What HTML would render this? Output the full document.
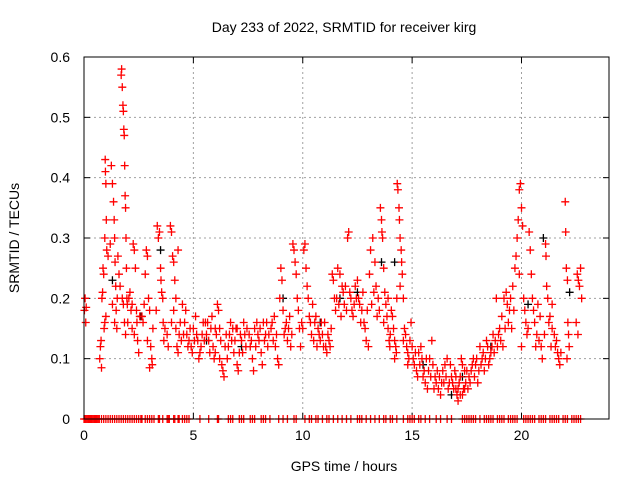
<!DOCTYPE html>
<html><head><meta charset="utf-8"><style>
body{margin:0;background:#fff;}
svg text{font-family:"Liberation Sans",sans-serif;font-size:14px;fill:#000;}
</style></head><body>
<svg id="chart" width="640" height="480" xmlns="http://www.w3.org/2000/svg">
<rect width="640" height="480" fill="#fff"/>
<text x="344" y="32" text-anchor="middle">Day 233 of 2022, SRMTID for receiver kirg</text>
<text x="344" y="471" text-anchor="middle">GPS time / hours</text>
<text transform="translate(19,238) rotate(-90)" text-anchor="middle">SRMTID / TECUs</text>
<g id="grid"></g>
<g id="ticks"></g>
<g id="marks"></g>
<rect x="84" y="57" width="525" height="362" fill="none" stroke="#000" stroke-width="1"/>
</svg>
<script>
const xTicks=[0,5,10,15,20];
const yTicks=[0,0.1,0.2,0.3,0.4,0.5,0.6];
const yTickLabels=["0","0.1","0.2","0.3","0.4","0.5","0.6"];
const redPoints=[
[0.02,0.18],[0.05,0.2],[0.08,0.16],[0.1,0.185],
[0.72,0.1],[0.75,0.12],[0.78,0.13],[0.8,0.085],[0.82,0.2],[0.85,0.21],[0.87,0.25],[0.9,0.24],[0.92,0.15],[0.95,0.16],[0.97,0.43],[0.98,0.41],[1.0,0.39],[1.02,0.33],[1.04,0.28],[1.0,0.17],
[1.2,0.29],[1.25,0.42],[1.3,0.39],[1.35,0.36],[1.38,0.33],[1.4,0.3],[1.42,0.26],[1.45,0.22],[1.47,0.18],[1.5,0.15],[1.52,0.2],[1.55,0.27],[1.3,0.19],[1.4,0.16],
[1.7,0.57],[1.72,0.58],[1.75,0.55],[1.78,0.52],[1.8,0.51],[1.82,0.48],[1.84,0.47],[1.86,0.42],[1.88,0.37],[1.9,0.35],[1.92,0.3],[1.94,0.25],[1.96,0.2],[1.98,0.19],[1.85,0.16],[1.9,0.14],[1.75,0.2],[1.8,0.19],
[2.05,0.2],[2.1,0.21],[2.15,0.18],[2.2,0.15],[2.25,0.29],[2.3,0.28],[2.35,0.25],[2.4,0.18],[2.42,0.16],[2.45,0.13],[2.5,0.11],[2.2,0.19],
[2.65,0.17],[2.7,0.16],[2.75,0.19],[2.8,0.24],[2.85,0.28],[2.9,0.27],[2.95,0.2],[3.0,0.18],[3.05,0.12],[3.1,0.1],[3.12,0.09],[3.15,0.15],[3.0,0.085],
[3.35,0.32],[3.4,0.3],[3.45,0.31],[3.5,0.25],[3.52,0.23],[3.55,0.21],[3.6,0.2],[3.62,0.16],[3.65,0.13],[3.7,0.15],
[3.95,0.32],[4.0,0.31],[4.05,0.27],[4.1,0.26],[4.15,0.23],[4.2,0.15],[4.25,0.12],[4.3,0.11],[4.35,0.14],[4.0,0.16],[4.1,0.18],[4.2,0.2],[4.3,0.28],[4.4,0.16],
[4.5,0.19],[4.6,0.16],[4.7,0.14],[4.8,0.13],[4.9,0.12],[5.0,0.15],[5.1,0.17],[5.15,0.14],[5.2,0.13],[5.25,0.1],[5.3,0.11],[5.35,0.12],[5.4,0.14],[5.45,0.16],[4.65,0.18],[4.85,0.15],
[5.55,0.16],[5.6,0.14],[5.7,0.13],[5.8,0.15],[5.85,0.17],[5.9,0.12],[5.95,0.1],[6.0,0.11],[6.05,0.14],[6.1,0.19],[6.15,0.18],[6.2,0.15],[6.25,0.13],[6.3,0.09],[6.35,0.08],[6.4,0.07],[6.2,0.1],
[6.55,0.1],[6.6,0.12],[6.65,0.14],[6.7,0.16],[6.8,0.15],[6.9,0.13],[7.0,0.09],[7.05,0.08],[7.1,0.11],[7.2,0.13],[7.3,0.16],[7.35,0.14],[7.4,0.12],[7.0,0.15],
[7.55,0.14],[7.6,0.12],[7.7,0.1],[7.75,0.08],[7.8,0.15],[7.9,0.16],[8.0,0.13],[8.1,0.11],[8.15,0.09],[8.3,0.14],[8.4,0.12],[8.2,0.16],
[8.55,0.15],[8.6,0.16],[8.7,0.17],[8.8,0.14],[8.85,0.1],[8.9,0.09],[8.95,0.2],[9.0,0.25],[9.05,0.23],[9.1,0.18],[9.2,0.15],[9.3,0.13],[9.4,0.17],
[9.55,0.29],[9.6,0.28],[9.65,0.26],[9.7,0.24],[9.75,0.2],[9.8,0.18],[9.85,0.15],[9.9,0.12],[9.95,0.16],
[10.05,0.28],[10.1,0.29],[10.15,0.25],[10.2,0.22],[10.25,0.2],[10.3,0.17],[10.35,0.16],[10.4,0.14],[10.45,0.19],
[10.6,0.17],[10.7,0.15],[10.8,0.13],[10.9,0.14],[11.0,0.16],[11.05,0.12],[11.1,0.11],[11.2,0.13],[11.3,0.15],[11.35,0.24],[11.4,0.23],[11.45,0.2],[11.5,0.18],
[11.6,0.25],[11.7,0.24],[11.8,0.22],[11.9,0.19],[12.0,0.18],[12.05,0.3],[12.1,0.31],[12.2,0.2],[12.3,0.17],[12.4,0.22],[12.15,0.21],[12.35,0.19],
[12.55,0.2],[12.6,0.19],[12.7,0.18],[12.8,0.16],[12.9,0.13],[13.0,0.12],[13.05,0.24],[13.1,0.28],[13.2,0.3],[13.3,0.26],[13.35,0.22],[13.45,0.2],[12.75,0.21],
[13.55,0.35],[13.6,0.33],[13.62,0.31],[13.65,0.3],[13.7,0.25],[13.75,0.21],[13.8,0.19],[13.85,0.17],[13.9,0.15],[13.95,0.13],[13.98,0.12],
[14.05,0.18],[14.1,0.17],[14.15,0.15],[14.2,0.13],[14.25,0.12],[14.28,0.11],[14.3,0.2],[14.32,0.39],[14.35,0.38],[14.4,0.35],[14.42,0.33],[14.45,0.3],[14.5,0.28],[14.52,0.26],[14.55,0.24],[14.6,0.2],[14.45,0.22],
[14.65,0.15],[14.7,0.14],[14.75,0.12],[14.8,0.11],[14.85,0.1],[14.9,0.13],[14.95,0.16],
[15.05,0.1],[15.1,0.09],[15.2,0.08],[15.3,0.11],[15.4,0.12],[15.5,0.07],[15.6,0.06],[15.7,0.05],[15.75,0.08],[15.8,0.1],[15.9,0.13],[15.95,0.09],[15.25,0.07],[15.45,0.1],
[16.05,0.07],[16.1,0.06],[16.2,0.05],[16.3,0.04],[16.4,0.08],[16.5,0.09],[16.6,0.1],[16.7,0.06],[16.8,0.07],[16.9,0.05],[16.95,0.08],[16.45,0.06],
[17.0,0.05],[17.05,0.04],[17.1,0.03],[17.15,0.06],[17.2,0.07],[17.25,0.1],[17.3,0.09],[17.35,0.05],[17.4,0.08],[17.45,0.06],[17.1,0.05],[17.2,0.04],
[17.6,0.07],[17.7,0.08],[17.8,0.1],[17.9,0.09],[18.0,0.06],[18.1,0.12],[18.2,0.1],[18.25,0.11],[18.3,0.08],[18.4,0.13],[18.45,0.12],
[18.55,0.1],[18.6,0.11],[18.7,0.14],[18.8,0.13],[18.85,0.2],[18.9,0.12],[19.0,0.15],[19.1,0.17],[19.2,0.2],[19.3,0.21],[19.35,0.19],[19.4,0.16],[19.45,0.18],
[19.6,0.22],[19.7,0.25],[19.75,0.27],[19.8,0.3],[19.85,0.33],[19.9,0.38],[19.95,0.39],[20.0,0.35],[20.05,0.32],[20.1,0.2],[20.15,0.18],[20.2,0.16],[20.25,0.14],[20.0,0.12],[19.9,0.24],
[20.35,0.31],[20.4,0.28],[20.45,0.24],[20.5,0.2],[20.55,0.18],[20.6,0.16],[20.7,0.14],[20.8,0.13],[20.9,0.12],[20.95,0.1],[20.75,0.19],
[21.1,0.29],[21.12,0.27],[21.15,0.22],[21.2,0.2],[21.3,0.17],[21.4,0.15],[21.5,0.14],[21.6,0.13],[21.65,0.11],[21.7,0.1],[21.75,0.09],[21.4,0.19],
[22.0,0.36],[22.02,0.31],[22.05,0.25],[22.1,0.23],[22.12,0.16],[22.15,0.14],[22.18,0.12],
[22.55,0.24],[22.6,0.23],[22.65,0.22],[22.7,0.25],[22.75,0.2],
[0.95,0.3],[1.1,0.27],[1.6,0.24],[1.65,0.22],[2.0,0.16],[2.3,0.14],[2.55,0.17],[2.9,0.13],[3.3,0.18],[3.8,0.14],[3.85,0.12],[4.45,0.13],[4.55,0.14],[4.75,0.12],[4.95,0.11],[5.05,0.13],[5.5,0.13],[5.65,0.16],[5.75,0.11],[6.0,0.15],[6.45,0.12],[6.5,0.14],[6.75,0.13],[6.85,0.11],[6.95,0.15],[7.15,0.14],[7.25,0.11],[7.45,0.15],[7.65,0.13],[7.85,0.12],[7.95,0.14],[8.05,0.15],[8.25,0.13],[8.35,0.16],[8.45,0.14],[8.65,0.13],[8.75,0.12],[9.15,0.14],[9.25,0.16],[9.35,0.15],[9.45,0.12],[9.5,0.14],[10.0,0.15],[10.5,0.13],[10.55,0.16],[10.65,0.12],[10.75,0.14],[10.85,0.16],[10.95,0.12],[11.15,0.14],[11.25,0.12],[11.55,0.2],[11.65,0.19],[11.75,0.17],[11.85,0.21],[11.95,0.22],[12.25,0.18],[12.45,0.2],[12.5,0.23],[12.65,0.16],[12.85,0.15],[12.95,0.18],[13.15,0.19],[13.25,0.21],[13.4,0.17],[13.5,0.18],[13.7,0.16],[13.9,0.2],[14.0,0.14],[14.2,0.1],[14.6,0.13],[14.8,0.09],[15.0,0.12],[15.15,0.11],[15.35,0.09],[15.55,0.08],[15.65,0.1],[15.85,0.07],[16.0,0.05],[16.15,0.08],[16.25,0.07],[16.35,0.06],[16.55,0.07],[16.65,0.05],[16.75,0.09],[16.85,0.06],[17.0,0.07],[17.3,0.04],[17.4,0.05],[17.5,0.08],[17.55,0.05],[17.65,0.06],[17.75,0.09],[17.85,0.07],[17.95,0.1],[18.05,0.08],[18.15,0.09],[18.35,0.1],[18.5,0.09],[18.65,0.12],[18.75,0.11],[18.95,0.14],[19.05,0.13],[19.15,0.12],[19.25,0.15],[19.5,0.2],[19.55,0.15],[19.65,0.18],[20.3,0.15],[20.65,0.12],[20.85,0.17],[21.05,0.14],[21.25,0.16],[21.35,0.12],[21.55,0.12],[21.8,0.11],[22.08,0.1],[22.5,0.16],[22.58,0.14]
];
const blackPoints=[[1.3,0.23],[2.6,0.17],[3.5,0.28],[5.6,0.13],[7.2,0.12],[9.1,0.2],[10.8,0.16],[12.5,0.21],[13.6,0.26],[15.5,0.09],[16.8,0.04],[17.3,0.07],[18.6,0.12],[20.3,0.19],[21.0,0.3],[22.2,0.21],[14.2,0.26],[11.7,0.2]];
const zeroTimes=[0.0,0.05,0.1,0.15,0.2,0.25,0.3,0.35,0.4,0.45,0.5,0.55,0.6,0.65,0.7,0.8,0.9,1.0,1.1,1.2,1.3,1.4,1.5,1.6,1.7,1.8,1.9,2.0,2.1,2.2,2.3,2.4,2.5,2.6,2.65,2.8,2.9,3.0,3.1,3.2,3.4,3.45,3.6,3.8,3.85,3.9,4.1,4.15,4.3,4.35,4.5,4.6,4.7,4.8,5.3,5.7,6.1,6.15,6.6,6.7,6.8,7.1,7.2,7.3,7.6,7.7,7.8,8.1,8.2,8.3,8.5,8.9,9.1,9.3,9.6,9.7,10.1,10.3,10.4,10.6,10.7,10.9,11.1,11.2,11.4,11.6,11.8,12.0,12.2,12.5,12.6,12.7,12.9,13.1,13.3,13.5,13.7,13.8,14.0,14.1,14.3,14.6,14.8,14.9,15.0,15.1,15.3,15.4,15.6,15.8,16.1,16.3,16.6,16.8,17.3,17.4,17.5,17.6,17.7,17.8,17.9,18.1,18.3,18.4,18.5,18.6,18.7,18.9,19.0,19.1,19.2,19.4,19.5,19.6,19.7,19.8,20.1,20.2,20.3,20.4,20.5,20.6,20.8,20.9,21.0,21.1,21.3,21.4,21.5,21.6,21.7,21.9,22.0,22.1,22.3,22.4,22.5,22.6,22.7];
const X0=84,X1=609,Y0=419,Y1=57,XMAX=24,YMAX=0.6;
function xs(t){return X0+(X1-X0)*t/XMAX;}
function ys(v){return Y0-(Y0-Y1)*v/YMAX;}
const NS="http://www.w3.org/2000/svg";
const grid=document.getElementById('grid'),ticks=document.getElementById('ticks'),marks=document.getElementById('marks');
function mk(tag,attrs,parent){const e=document.createElementNS(NS,tag);for(const k in attrs)e.setAttribute(k,attrs[k]);parent.appendChild(e);return e;}
xTicks.forEach(t=>{
  const x=xs(t);
  if(t>0){const g=mk('line',{x1:x,x2:x,y1:Y1,y2:Y0,stroke:'#a0a0a0','stroke-dasharray':'2,3'},grid);
  
  }
  mk('line',{x1:x,x2:x,y1:Y0,y2:Y0-6,stroke:'#000'},ticks);
  mk('line',{x1:x,x2:x,y1:Y1,y2:Y1+6,stroke:'#000'},ticks);
  const tx=mk('text',{x:x,y:Y0+21,'text-anchor':'middle'},ticks);tx.textContent=t;
  
  
});
yTicks.forEach((v,i)=>{
  const y=ys(v);
  if(v>0&&v<0.6){const g=mk('line',{x1:X0,x2:X1,y1:y,y2:y,stroke:'#a0a0a0','stroke-dasharray':'2,3'},grid);
  
  }
  mk('line',{x1:X0,x2:X0+6,y1:y,y2:y,stroke:'#000'},ticks);
  mk('line',{x1:X1,x2:X1-6,y1:y,y2:y,stroke:'#000'},ticks);
  const tx=mk('text',{x:70,y:y+5,'text-anchor':'end'},ticks);tx.textContent=yTickLabels[i];
  
  
});
function cross(t,v,color,name){
  const x=xs(t),y=ys(v);
  const p=mk('path',{d:`M${x-4},${y}h8M${x},${y-4}v8`,stroke:color,'stroke-width':1.3,fill:'none'},marks);
  
  
}
blackPoints.forEach(p=>cross(p[0],p[1],'#000','black-point'));
redPoints.forEach(p=>cross(p[0],p[1],'#f00','red-point'));
zeroTimes.forEach(t=>cross(t,0,'#f00','zero-point'));
</script>
</body></html>
